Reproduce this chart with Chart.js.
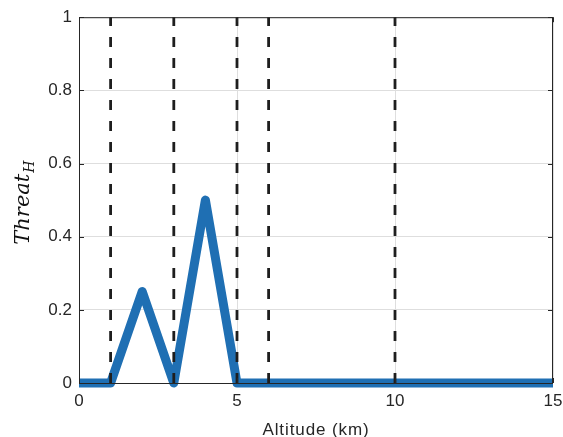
<!DOCTYPE html>
<html>
<head>
<meta charset="utf-8">
<script src="https://cdn.jsdelivr.net/npm/chart.js@4.4.1/dist/chart.umd.min.js"></script>
<style>
  html, body { margin: 0; padding: 0; background: #fff; }
  #wrap { width: 563px; height: 437px; }
</style>
</head>
<body>
<div id="wrap"><canvas id="c" width="563" height="437"></canvas></div>
<script>
// Threat profile over altitude
const altitudeKm = [0, 1, 2, 3, 4, 5, 15];
const threatH    = [0, 0, 0.25, 0, 0.5, 0, 0];
// Layer boundaries (km)
const boundaries = [1, 3, 5, 6, 10];
// Axis ticks
const xTicks = [0, 5, 10, 15];
const yTicks = [0, 0.2, 0.4, 0.6, 0.8, 1];

const AXIS = '#262626';
const GRID = '#dedede';
const SANS = '"Liberation Sans", Arial, sans-serif';

const boundarySets = boundaries.map(b => ({
  data: [{ x: b, y: 0 }, { x: b, y: 1 }],
  borderColor: '#1e1e1e',
  borderWidth: 2.8,
  borderDash: [10, 11],
  pointRadius: 0,
  order: 0,
  clip: false
}));

const threatSet = {
  data: altitudeKm.map((x, i) => ({ x, y: threatH[i] })),
  borderColor: '#1f6fb3',
  borderWidth: 9,
  borderCapStyle: 'butt',
  borderJoinStyle: 'round',
  pointRadius: 0,
  tension: 0,
  order: 1,
  clip: false
};

// Frame, inward tick marks and axis titles
const framePlugin = {
  id: 'frame',
  afterDraw(chart) {
    const { ctx, chartArea: a, scales } = chart;
    ctx.save();
    ctx.strokeStyle = AXIS;
    ctx.lineWidth = 1;
    ctx.strokeRect(a.left + 0.5, a.top + 0.5, a.right - a.left - 1, a.bottom - a.top);
    ctx.beginPath();
    yTicks.forEach(v => {
      const y = Math.round(scales.y.getPixelForValue(v)) + 0.5;
      ctx.moveTo(a.left, y); ctx.lineTo(a.left + 5, y);
      ctx.moveTo(a.right, y); ctx.lineTo(a.right - 5, y);
    });
    xTicks.forEach(v => {
      const x = Math.round(scales.x.getPixelForValue(v)) + 0.5;
      ctx.moveTo(x, a.bottom); ctx.lineTo(x, a.bottom - 5);
      ctx.moveTo(x, a.top); ctx.lineTo(x, a.top + 5);
    });
    ctx.stroke();

    // x title
    ctx.fillStyle = AXIS;
    ctx.font = '17px ' + SANS;
    ctx.letterSpacing = '0.9px';
    ctx.textAlign = 'center';
    ctx.textBaseline = 'alphabetic';
    ctx.fillText('Altitude (km)', (a.left + a.right) / 2, 435);
    ctx.letterSpacing = '0px';

    // y title: Threat with subscript H
    ctx.translate(29, (a.top + a.bottom) / 2 + 3);
    ctx.rotate(-Math.PI / 2);
    ctx.fillStyle = '#111';
    const big = 'italic 21px "DejaVu Serif", "Liberation Serif", serif';
    const small = 'italic 14px "DejaVu Serif", "Liberation Serif", serif';
    ctx.font = big;
    const w1 = ctx.measureText('Threat').width;
    ctx.font = small;
    const w2 = ctx.measureText('H').width;
    const start = -(w1 + w2) / 2;
    ctx.textAlign = 'left';
    ctx.font = big;
    ctx.fillText('Threat', start, 0);
    ctx.font = small;
    ctx.fillText('H', start + w1 + 1, 5);
    ctx.restore();
  }
};

new Chart(document.getElementById('c'), {
  type: 'line',
  data: { datasets: [...boundarySets, threatSet] },
  options: {
    responsive: false,
    animation: false,
    events: [],
    layout: { padding: { left: 0, top: 14, right: 0, bottom: 0 } },
    plugins: { legend: { display: false }, tooltip: { enabled: false } },
    scales: {
      x: {
        type: 'linear',
        min: 0, max: 15,
        afterBuildTicks(s) { s.ticks = xTicks.map(v => ({ value: v })); },
        afterFit(s) { s.height = 54; s.paddingRight = 10; },
        grid: { color: GRID, drawTicks: false },
        border: { display: false },
        ticks: {
          color: AXIS,
          padding: 8,
          font: { family: SANS, size: 17 },
          callback: v => String(v)
        }
      },
      y: {
        type: 'linear',
        min: 0, max: 1,
        afterBuildTicks(s) { s.ticks = yTicks.map(v => ({ value: v })); },
        afterFit(s) { s.width = 79; },
        grid: { color: GRID, drawTicks: false },
        border: { display: false },
        ticks: {
          color: AXIS,
          padding: 7,
          font: { family: SANS, size: 17 },
          callback: v => String(Math.round(v * 10) / 10)
        }
      }
    }
  },
  plugins: [framePlugin]
});
</script>
</body>
</html>
